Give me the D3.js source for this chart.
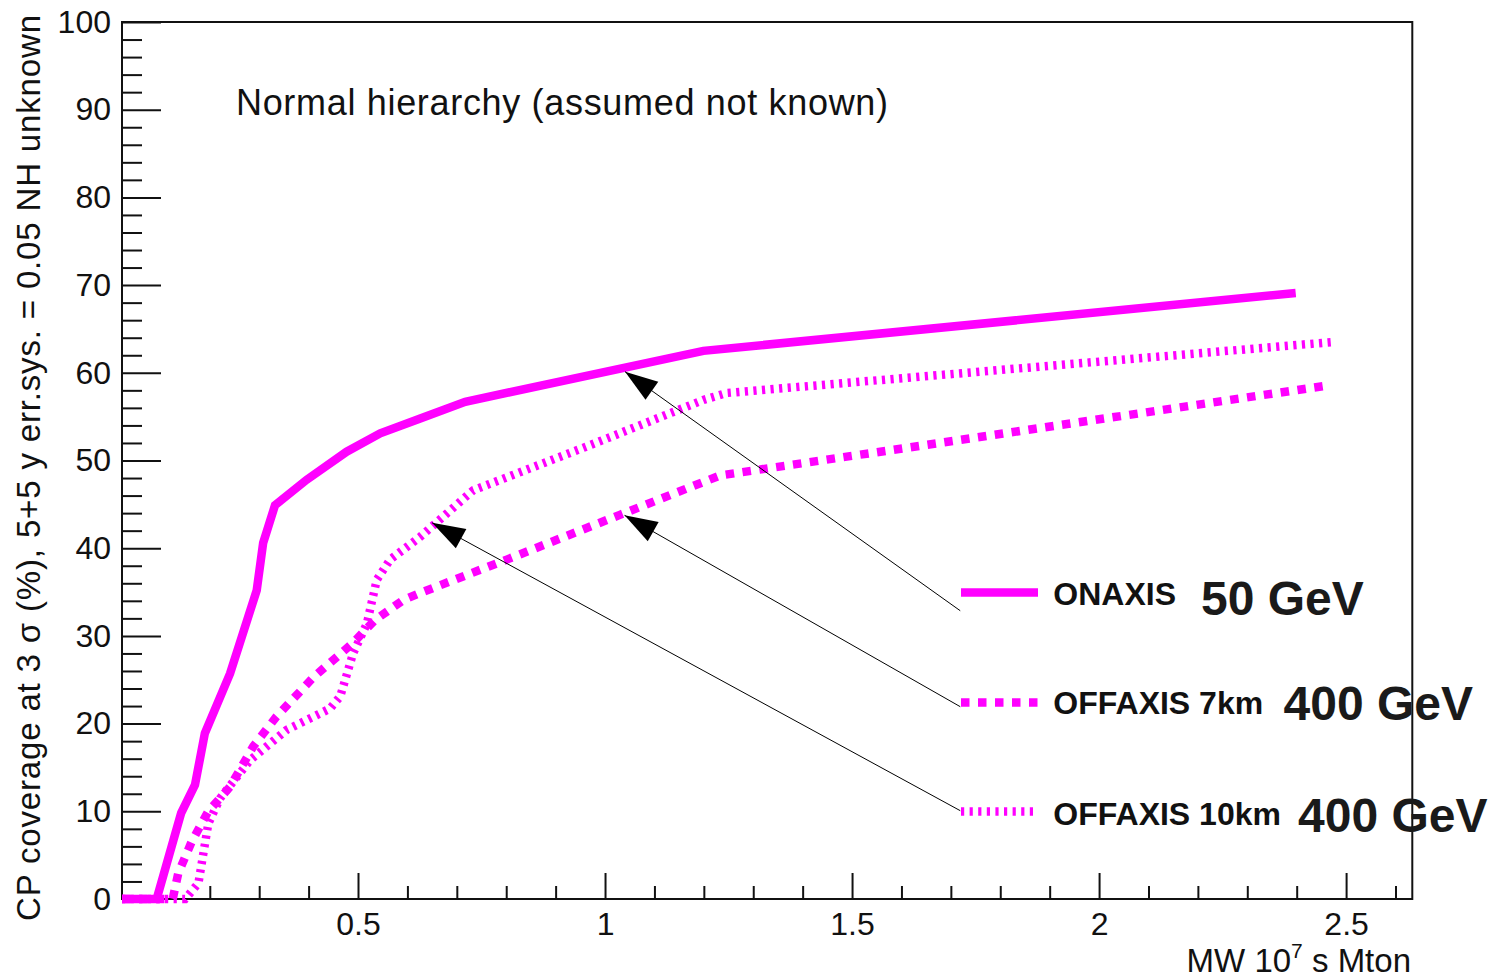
<!DOCTYPE html>
<html>
<head>
<meta charset="utf-8">
<script src="https://cdn.jsdelivr.net/npm/d3@7"></script>
<style>
  body { margin: 0; background: #fff; }
  text { font-family: "Liberation Sans", Arial, Helvetica, sans-serif; }
</style>
</head>
<body>
<svg id="chart" width="1490" height="980"></svg>
<script>
// ---- axis ranges and ticks ----
const xDomain = [0.0223, 2.634];
const yDomain = [0, 100];
const xMajorTicks = [0.5, 1, 1.5, 2, 2.5];
const xTickLabels = ["0.5", "1", "1.5", "2", "2.5"];
const xMinorTicks = [0.1, 0.2, 0.3, 0.4, 0.6, 0.7, 0.8, 0.9, 1.1, 1.2, 1.3, 1.4,
                     1.6, 1.7, 1.8, 1.9, 2.1, 2.2, 2.3, 2.4, 2.6];
const yMajorTicks = [0, 10, 20, 30, 40, 50, 60, 70, 80, 90, 100];
const yTickLabels = ["0", "10", "20", "30", "40", "50", "60", "70", "80", "90", "100"];
const yMinorTicks = [2, 4, 6, 8, 12, 14, 16, 18, 22, 24, 26, 28, 32, 34, 36, 38,
                     42, 44, 46, 48, 52, 54, 56, 58, 62, 64, 66, 68, 72, 74, 76, 78,
                     82, 84, 86, 88, 92, 94, 96, 98];

// ---- series: exposure (MW 10^7 s Mton) vs CP coverage (%) ----
const onaxisX = [0.0223, 0.0925, 0.142, 0.170, 0.190, 0.241, 0.295, 0.308, 0.332,
                 0.396, 0.477, 0.545, 0.626, 0.717, 1.199, 2.398];
const onaxisY = [0, 0, 9.8, 13.0, 18.9, 25.7, 35.2, 40.6, 44.9,
                 47.8, 51.0, 53.1, 54.8, 56.7, 62.5, 69.1];

const off7X = [0.0223, 0.125, 0.136, 0.163, 0.197, 0.241, 0.288, 0.335, 0.410,
               0.490, 0.534, 0.592, 0.626, 0.801, 1.030, 1.233, 2.468];
const off7Y = [0, 0, 2.9, 6.5, 10.0, 12.8, 17.4, 20.8, 25.3,
               29.2, 31.8, 34.1, 34.9, 38.7, 43.8, 48.3, 58.6];

const off10X = [0.0223, 0.150, 0.177, 0.187, 0.197, 0.221, 0.281, 0.356, 0.443, 0.464,
                0.490, 0.518, 0.538, 0.565, 0.626, 0.733, 0.963, 1.199, 1.246, 2.471];
const off10Y = [0, 0, 1.8, 5.2, 8.6, 11.5, 15.8, 19.3, 21.7, 23.1,
                28.0, 31.4, 36.4, 38.7, 41.3, 46.6, 51.6, 56.9, 57.7, 63.5];

const seriesNames = ["ONAXIS", "OFFAXIS 7km", "OFFAXIS 10km"];
const seriesEnergies = ["50 GeV", "400 GeV", "400 GeV"];

// arrows from the legend entries to their curves: tail and tip in data units
const arrowTails = [[1.719, 32.87], [1.719, 21.93], [1.719, 10.07]];
const arrowTips = [[1.0405, 60.13], [1.0395, 43.75], [0.650, 42.9]];

// ---- layout ----
const frame = { left: 122, right: 1412.3, top: 22, bottom: 899 };
const magenta = "#ff00ff";
const lineW = 8.5;
const dashStyles = [null, "8.5 8.5", "3.2 5.4"];

const svg = d3.select("#chart");
const x = d3.scaleLinear().domain(xDomain).range([frame.left, frame.right]);
const y = d3.scaleLinear().domain(yDomain).range([frame.bottom, frame.top]);

// frame
svg.append("rect")
  .attr("x", frame.left).attr("y", frame.top)
  .attr("width", frame.right - frame.left).attr("height", frame.bottom - frame.top)
  .attr("fill", "none").attr("stroke", "#111").attr("stroke-width", 2);

// y axis: major ticks with labels, minor ticks
const yAxisMajor = d3.axisLeft(y).tickValues(yMajorTicks)
  .tickFormat((d, i) => yTickLabels[i]).tickSize(-39).tickPadding(11);
const yAxisMinor = d3.axisLeft(y).tickValues(yMinorTicks).tickFormat("").tickSize(-20);
const gy = svg.append("g").attr("transform", `translate(${frame.left},0)`).call(yAxisMajor);
const gy2 = svg.append("g").attr("transform", `translate(${frame.left},0)`).call(yAxisMinor);

// x axis
const xAxisMajor = d3.axisBottom(x).tickValues(xMajorTicks)
  .tickFormat((d, i) => xTickLabels[i]).tickSize(-26).tickPadding(13);
const xAxisMinor = d3.axisBottom(x).tickValues(xMinorTicks).tickFormat("").tickSize(-13);
const gx = svg.append("g").attr("transform", `translate(0,${frame.bottom})`).call(xAxisMajor);
const gx2 = svg.append("g").attr("transform", `translate(0,${frame.bottom})`).call(xAxisMinor);

[gy, gy2, gx, gx2].forEach(g => {
  g.select(".domain").remove();
  g.selectAll(".tick line").attr("stroke", "#111").attr("stroke-width", 2);
  g.selectAll(".tick text").attr("fill", "#111").attr("font-size", 32)
    .attr("font-family", "'Liberation Sans', Arial, Helvetica, sans-serif");
});

// axis titles
svg.append("text")
  .attr("transform", "translate(39.5,468) rotate(-90)")
  .attr("text-anchor", "middle")
  .attr("font-size", 33)
  .attr("fill", "#111")
  .attr("textLength", 906).attr("lengthAdjust", "spacing")
  .text("CP coverage at 3 σ (%), 5+5 y err.sys. = 0.05 NH unknown");

const xt = svg.append("text")
  .attr("x", 1411).attr("y", 972)
  .attr("text-anchor", "end")
  .attr("font-size", 33)
  .attr("fill", "#111");
xt.append("tspan").text("MW 10");
xt.append("tspan").attr("font-size", 21).attr("dy", -14).text("7");
xt.append("tspan").attr("dy", 14).text(" s Mton");

// plot label
svg.append("text")
  .attr("x", 236).attr("y", 115)
  .attr("font-size", 36)
  .attr("fill", "#111")
  .attr("textLength", 652).attr("lengthAdjust", "spacing")
  .text("Normal hierarchy (assumed not known)");

// curves
const line = d3.line().x(d => x(d[0])).y(d => y(d[1]));
const series = [
  d3.zip(onaxisX, onaxisY),
  d3.zip(off7X, off7Y),
  d3.zip(off10X, off10Y)
];
series.forEach((pts, i) => {
  const p = svg.append("path")
    .attr("d", line(pts))
    .attr("fill", "none")
    .attr("stroke", magenta)
    .attr("stroke-width", lineW)
    .attr("stroke-linejoin", "miter")
    .attr("stroke-miterlimit", 4)
    .attr("stroke-linecap", "butt");
  if (dashStyles[i]) p.attr("stroke-dasharray", dashStyles[i]);
});

// arrows
arrowTails.forEach((t, i) => {
  const x0 = x(t[0]), y0 = y(t[1]);
  const x1 = x(arrowTips[i][0]), y1 = y(arrowTips[i][1]);
  svg.append("line")
    .attr("x1", x0).attr("y1", y0).attr("x2", x1).attr("y2", y1)
    .attr("stroke", "#000").attr("stroke-width", 1);
  const ang = Math.atan2(y1 - y0, x1 - x0);
  const L = 33, W = 11;
  const bx = x1 - L * Math.cos(ang), by = y1 - L * Math.sin(ang);
  const px = -Math.sin(ang) * W, py = Math.cos(ang) * W;
  svg.append("path")
    .attr("d", `M${x1},${y1}L${bx + px},${by + py}L${bx - px},${by - py}Z`)
    .attr("fill", "#000");
});

// legend
const legendRows = [
  { lineY: 592.5, textY: 605, bigX: 1201, bigY: 615 },
  { lineY: 702.5, textY: 713.5, bigX: 1283.5, bigY: 720 },
  { lineY: 811.5, textY: 825, bigX: 1298, bigY: 832 }
];
legendRows.forEach((r, i) => {
  const s = svg.append("line")
    .attr("x1", 961).attr("x2", 1038)
    .attr("y1", r.lineY).attr("y2", r.lineY)
    .attr("stroke", magenta).attr("stroke-width", lineW);
  if (dashStyles[i]) s.attr("stroke-dasharray", dashStyles[i]);
  svg.append("text")
    .attr("x", 1053.3).attr("y", r.textY)
    .attr("font-size", 32).attr("font-weight", "bold").attr("fill", "#111")
    .text(seriesNames[i]);
  svg.append("text")
    .attr("x", r.bigX).attr("y", r.bigY)
    .attr("font-size", 48).attr("font-weight", "bold").attr("fill", "#1a1a1a")
    .text(seriesEnergies[i]);
});
</script>
</body>
</html>
